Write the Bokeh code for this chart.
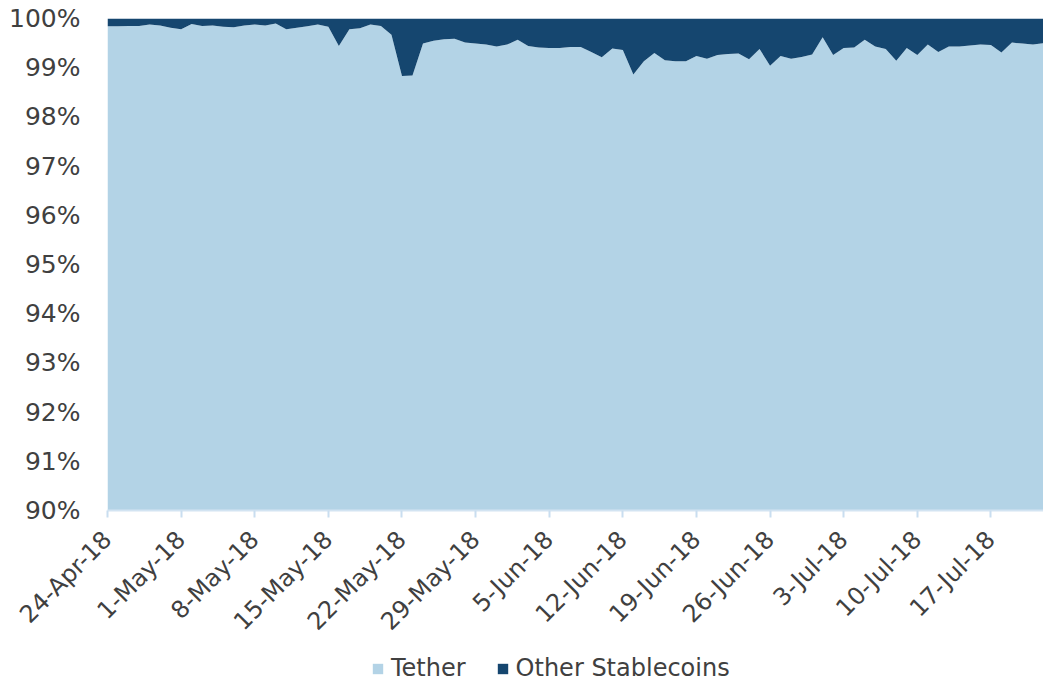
from bokeh.plotting import figure
from bokeh.layouts import column
from bokeh.models import ColumnDataSource, Range1d, FixedTicker, Legend, LegendItem
from bokeh.embed import file_html
from bokeh.resources import INLINE

# ---- data ----
day_index = list(range(90))  # 24-Apr-18 .. 22-Jul-18, daily
tether_share = [
    99.84, 99.84, 99.85, 99.85, 99.88, 99.86, 99.81, 99.78, 99.89, 99.85,
    99.86, 99.83, 99.82, 99.86, 99.88, 99.86, 99.90, 99.78, 99.81, 99.84,
    99.88, 99.83, 99.44, 99.78, 99.80, 99.88, 99.85, 99.67, 98.83, 98.84,
    99.49, 99.55, 99.58, 99.59, 99.51, 99.49, 99.47, 99.43, 99.47, 99.57,
    99.44, 99.41, 99.40, 99.40, 99.42, 99.42, 99.32, 99.21, 99.39, 99.36,
    98.86, 99.13, 99.30, 99.15, 99.13, 99.13, 99.24, 99.18, 99.26, 99.28,
    99.29, 99.17, 99.38, 99.04, 99.24, 99.18, 99.22, 99.27, 99.62, 99.26,
    99.40, 99.41, 99.57, 99.43, 99.38, 99.14, 99.40, 99.26, 99.47, 99.32,
    99.43, 99.43, 99.45, 99.47, 99.46, 99.31, 99.51, 99.49, 99.47, 99.50,
]
other_share = [round(100 - t, 2) for t in tether_share]

x_tick_positions = [0, 7, 14, 21, 28, 35, 42, 49, 56, 63, 70, 77, 84]
x_tick_labels = ["24-Apr-18", "1-May-18", "8-May-18", "15-May-18", "22-May-18",
                 "29-May-18", "5-Jun-18", "12-Jun-18", "19-Jun-18", "26-Jun-18",
                 "3-Jul-18", "10-Jul-18", "17-Jul-18"]
y_tick_values = [90, 91, 92, 93, 94, 95, 96, 97, 98, 99, 100]
y_tick_labels = ["90%", "91%", "92%", "93%", "94%", "95%", "96%", "97%", "98%", "99%", "100%"]
series_names = ["Tether", "Other Stablecoins"]

LIGHT = "#b3d3e6"
DARK = "#15466f"
TEXT = "#404040"
FONT = "DejaVu Sans"

source = ColumnDataSource(dict(x=day_index, tether=tether_share, other=other_share))

p = figure(width=1043, height=652, output_backend="svg", toolbar_location=None,
           x_range=Range1d(day_index[0], day_index[-1]), y_range=Range1d(90, 100),
           min_border_left=107, min_border_right=0, min_border_top=18, min_border_bottom=142)
p.outline_line_color = None
p.grid.visible = False

rs = p.varea_stack(["tether", "other"], x="x", source=source, color=[LIGHT, DARK])

# x axis
xa = p.xaxis[0]
xa.ticker = FixedTicker(ticks=x_tick_positions)
xa.major_label_overrides = {pos: lab for pos, lab in zip(x_tick_positions, x_tick_labels)}
xa.major_label_orientation = 0.785398
xa.major_label_text_font = FONT
xa.major_label_text_font_size = "24px"
xa.major_label_text_color = TEXT
xa.axis_line_color = "#d3e4f2"
xa.axis_line_width = 2
xa.major_tick_line_color = "#c9def0"
xa.major_tick_line_width = 2
xa.major_tick_in = 0
xa.major_tick_out = 7
xa.minor_tick_line_color = None
xa.major_label_standoff = 18

# y axis
ya = p.yaxis[0]
ya.ticker = FixedTicker(ticks=y_tick_values)
ya.major_label_overrides = {v: lab for v, lab in zip(y_tick_values, y_tick_labels)}
ya.major_label_text_font = FONT
ya.major_label_text_font_size = "25px"
ya.major_label_text_color = TEXT
ya.major_label_standoff = 21
ya.axis_line_color = None
ya.major_tick_line_color = None
ya.minor_tick_line_color = None

# ---- legend strip below the chart (its areas lie outside its view; only the keys show) ----
pl = figure(width=1043, height=30, output_backend="svg", toolbar_location=None,
            x_axis_type=None, y_axis_type=None,
            x_range=Range1d(day_index[0], day_index[-1]), y_range=Range1d(1000, 1001),
            min_border_left=0, min_border_right=0, min_border_top=0, min_border_bottom=0)
pl.outline_line_color = None
pl.grid.visible = False
keys = pl.varea_stack(["tether", "other"], x="x", source=source, color=[LIGHT, DARK])

legend = Legend(items=[LegendItem(label=series_names[0], renderers=[keys[0]]),
                       LegendItem(label=series_names[1], renderers=[keys[1]])],
                orientation="horizontal", location=(264, 0))
legend.padding = 0
legend.margin = 0
legend.spacing = 30
legend.glyph_width = 13
legend.glyph_height = 13
legend.label_standoff = 7
legend.label_text_font = FONT
legend.label_text_font_size = "24px"
legend.label_text_color = TEXT
legend.border_line_color = None
legend.background_fill_alpha = 0
pl.add_layout(legend, "center")

layout = column(p, pl, spacing=0)
open("out.html", "w").write(file_html(layout, INLINE))
